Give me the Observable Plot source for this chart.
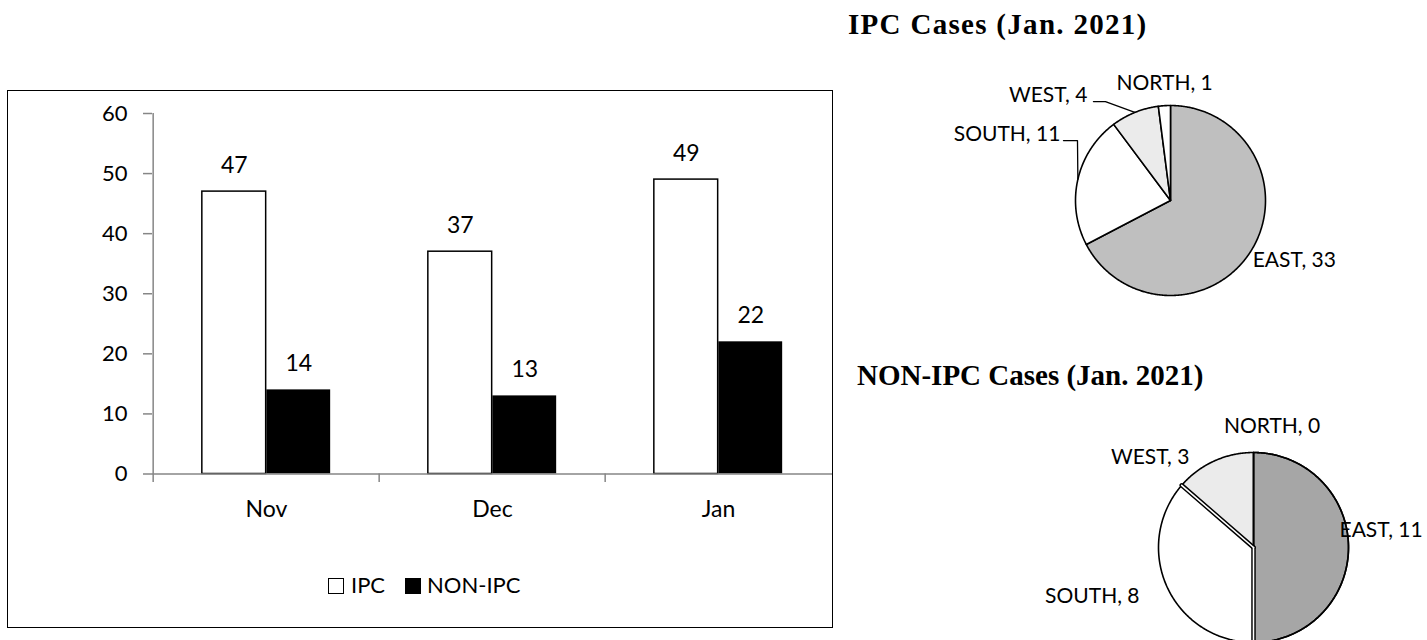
<!DOCTYPE html>
<html><head><meta charset="utf-8">
<script src="https://cdn.jsdelivr.net/npm/d3@7"></script>
<script src="https://cdn.jsdelivr.net/npm/@observablehq/plot@0.6"></script>
<style>
html,body{margin:0;padding:0;background:#fff;}
body{width:1427px;height:640px;position:relative;overflow:hidden;font-family:Lato,sans-serif;color:#000;}
.abs{position:absolute;}
#box{left:7px;top:90px;width:826px;height:538px;border:1.5px solid #000;box-sizing:border-box;}
.title{font-family:"Liberation Serif","Times New Roman",serif;font-weight:bold;font-size:29px;line-height:29px;white-space:nowrap;}
.leg{font-size:22px;line-height:22px;white-space:nowrap;}
.sw{width:16px;height:16px;border:1.5px solid #000;box-sizing:border-box;}
</style></head><body>
<div id="box" class="abs"></div>
<div id="bars" class="abs" style="left:8px;top:91px"></div>
<div class="abs sw" style="left:328px;top:577.5px;background:#fff"></div>
<div class="abs leg" style="left:351px;top:573.5px">IPC</div>
<div class="abs sw" style="left:405px;top:577.5px;background:#000"></div>
<div class="abs leg" style="left:427px;top:573.5px">NON-IPC</div>
<div class="abs title" style="left:848px;top:9.7px;letter-spacing:1.3px">IPC Cases (Jan. 2021)</div>
<div class="abs title" style="left:857px;top:360.7px">NON-IPC Cases (Jan. 2021)</div>
<div id="pie1" class="abs" style="left:990px;top:60px"></div>
<div id="pie2" class="abs" style="left:990px;top:400px"></div>
<script>
// ---- data ----
const months = ["Nov", "Dec", "Jan"];
const ipcCases = [47, 37, 49];
const nonIpcCases = [14, 13, 22];
const yTicks = [0, 10, 20, 30, 40, 50, 60];
const regions = ["EAST", "SOUTH", "WEST", "NORTH"];
const ipcByRegion = [33, 11, 4, 1];
const nonIpcByRegion = [11, 8, 3, 0];

// ---- bar chart ----
const W = 824, H = 536, ML = 144, MR = 0, MT = 22, MB = 153.5;
const bw = (W - ML - MR) / months.length;
const barW = 64.5;
const gray = "#868686";
const ipcRows = months.map((m, i) => ({month: m, value: ipcCases[i]}));
const nonRows = months.map((m, i) => ({month: m, value: nonIpcCases[i]}));

const bars = Plot.plot({
  width: W, height: H, marginLeft: ML, marginRight: MR, marginTop: MT, marginBottom: MB,
  x: {type: "band", domain: months, padding: 0, label: null},
  y: {domain: [0, 60], label: null},
  style: {fontFamily: "Lato, sans-serif", fontSize: "22px", background: "transparent", color: "black", overflow: "visible"},
  marks: [
    Plot.barY(ipcRows, {x: "month", y: "value", fill: "white", stroke: "black", strokeWidth: 1.5, insetLeft: bw / 2 - barW, insetRight: bw / 2}),
    Plot.barY(nonRows, {x: "month", y: "value", fill: "black", insetLeft: bw / 2, insetRight: bw / 2 - barW}),
    Plot.ruleY([0], {stroke: gray, strokeWidth: 1.5}),
    Plot.ruleX([months[0]], {dx: -bw / 2, y1: () => -1.4, y2: () => 60, stroke: gray, strokeWidth: 1.5}),
    Plot.ruleX(months.slice(1), {dx: -bw / 2, y1: () => 0, y2: () => -1.4, stroke: gray, strokeWidth: 1.5}),
    Plot.axisY(yTicks, {tickSize: 9, tickPadding: 16, stroke: gray, strokeWidth: 1.5, fill: "black", fontSize: 22, label: null}),
    Plot.axisX({tickSize: 0, tickPadding: 27, fontSize: 23, fill: "black", label: null}),
    Plot.text(ipcRows, {x: "month", y: "value", text: d => String(d.value), dx: -barW / 2, dy: -18.5, lineAnchor: "bottom", fontSize: 23, fill: "black"}),
    Plot.text(nonRows, {x: "month", y: "value", text: d => String(d.value), dx: barW / 2, dy: -18.5, lineAnchor: "bottom", fontSize: 23, fill: "black"})
  ]
});
document.getElementById("bars").append(bars);

// ---- pies ----
function piePlot(values, colors, cfg) {
  const R = 95;
  const arcs = d3.pie().sort(null).value(d => d)(values);
  const poly = [];
  arcs.forEach((a, i) => {
    poly.push({slice: i, x: 0, y: 0, color: colors[i]});
    const span = a.endAngle - a.startAngle;
    const n = Math.max(1, Math.ceil(span / (Math.PI / 360)));
    for (let k = 0; k <= n; k++) {
      const t = a.startAngle + span * k / n;
      poly.push({slice: i, x: Math.sin(t), y: Math.cos(t), color: colors[i]});
    }
    poly.push({slice: i, x: 0, y: 0, color: colors[i]});
  });
  const marks = [
    Plot.line(poly, {x: "x", y: "y", z: "slice", fill: "color", stroke: "black", strokeWidth: 1.6, curve: "linear", strokeLinejoin: "round"})
  ];
  if (cfg.gap) {
    const bounds = [];
    arcs.forEach((a, i) => {
      if (a.value > 0 && a.endAngle < 2 * Math.PI - 1e-6) {
        bounds.push({b: i, x: 0, y: 0}, {b: i, x: Math.sin(a.endAngle), y: Math.cos(a.endAngle)});
      }
    });
    marks.push(Plot.line(bounds, {x: "x", y: "y", z: "b", stroke: "black", strokeWidth: 4.5}));
    marks.push(Plot.line(bounds, {x: "x", y: "y", z: "b", stroke: "white", strokeWidth: 1.6}));
    marks.push(Plot.line(poly.filter(d => d.slice === 0 && (d.x !== 0 || d.y !== 0)), {x: "x", y: "y", stroke: "black", strokeWidth: 1.6}));
  }
  arcs.forEach((a, i) => {
    const mid = (a.startAngle + a.endAngle) / 2;
    const ax = Math.sin(mid), ay = Math.cos(mid);
    const L = cfg.labels[i];
    marks.push(Plot.text([{x: ax, y: ay, t: `${regions[i]}, ${values[i]}`}], {
      x: "x", y: "y", text: "t", dx: L.dx, dy: L.dy, textAnchor: L.anchor, lineAnchor: "middle",
      fontSize: 21, fill: "black"
    }));
    if (L.leader) {
      const pts = [{x: ax, y: ay}].concat(L.leader.map(([px, py]) => ({x: ax + px / R, y: ay - py / R})));
      marks.push(Plot.line(pts, {x: "x", y: "y", stroke: "black", strokeWidth: 1.3}));
    }
  });
  return Plot.plot({
    width: cfg.width, height: cfg.height,
    marginLeft: cfg.ml, marginRight: cfg.width - cfg.ml - 2 * R, marginTop: cfg.mt, marginBottom: cfg.height - cfg.mt - 2 * R,
    x: {domain: [-1, 1], axis: null},
    y: {domain: [-1, 1], axis: null},
    color: {type: "identity"},
    style: {fontFamily: "Lato, sans-serif", background: "transparent", color: "black", overflow: "visible"},
    marks
  });
}

document.getElementById("pie1").append(piePlot(ipcByRegion, ["#bfbfbf", "#ffffff", "#ebebeb", "#ffffff"], {
  width: 437, height: 260, ml: 85, mt: 45, gap: false,
  labels: [
    {dx: 1, dy: 11, anchor: "start"},
    {dx: -17.5, dy: -45.3, anchor: "end", leader: [[-0.4, -38.8], [-14.4, -38.8]]},
    {dx: -47.4, dy: -17.4, anchor: "end", leader: [[-29.4, -10.9], [-41.4, -10.9]]},
    {dx: -47.9, dy: -22.7, anchor: "start"}
  ]
}));

document.getElementById("pie2").append(piePlot(nonIpcByRegion, ["#a6a6a6", "#ffffff", "#ebebeb", "#ffffff"], {
  width: 437, height: 245, ml: 168, mt: 52, gap: true,
  labels: [
    {dx: -9, dy: -17, anchor: "start"},
    {dx: -27.6, dy: 9.1, anchor: "end"},
    {dx: -24.6, dy: -4.1, anchor: "end"},
    {dx: 18.5, dy: -26.5, anchor: "middle"}
  ]
}));
</script>
</body></html>
